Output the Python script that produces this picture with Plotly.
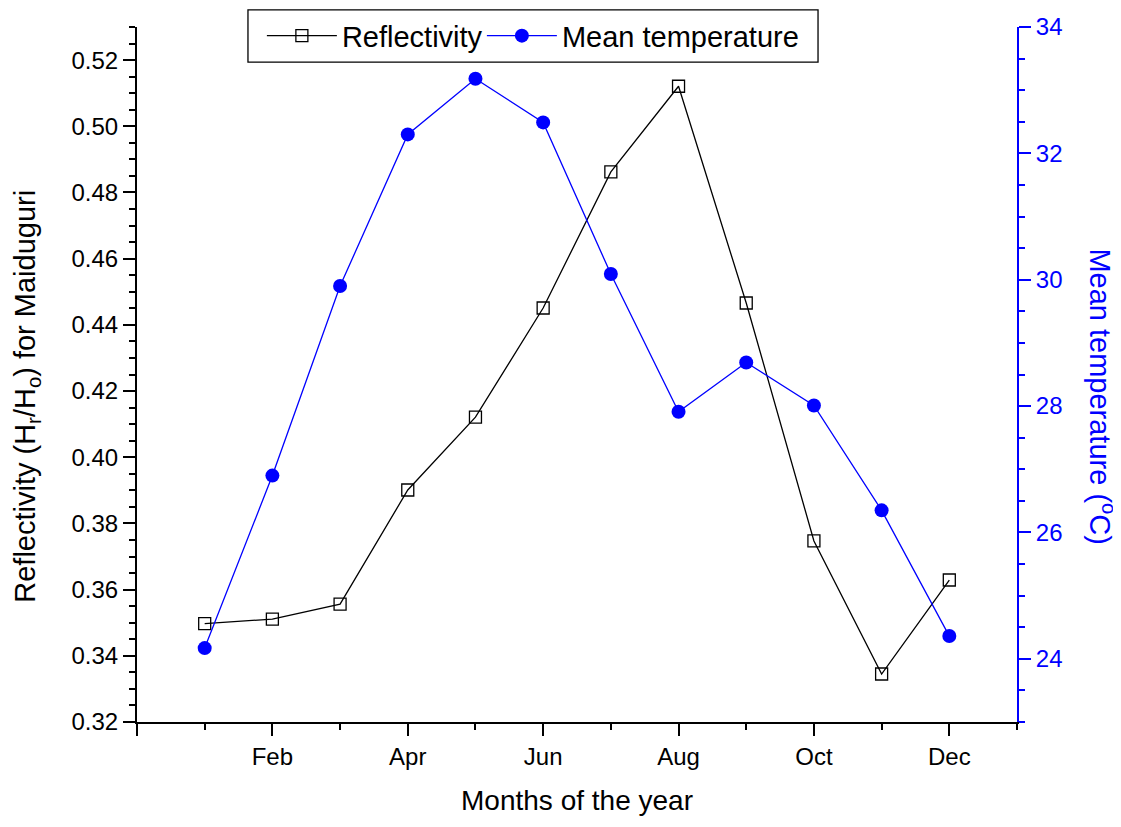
import plotly.graph_objects as go

months = [1, 2, 3, 4, 5, 6, 7, 8, 9, 10, 11, 12]
reflectivity = [0.3497, 0.3511, 0.3556, 0.3901, 0.4121, 0.4451, 0.4862, 0.5121, 0.4466, 0.3747, 0.3345, 0.3629]
mean_temp = [24.17, 26.90, 29.90, 32.30, 33.18, 32.49, 30.09, 27.91, 28.69, 28.01, 26.35, 24.36]
tick_vals = [0, 2, 4, 6, 8, 10, 12]
tick_text = ["", "Feb", "Apr", "Jun", "Aug", "Oct", "Dec"]

FONT = "Liberation Sans, Arial, sans-serif"
BLUE = "#0000ff"

fig = go.Figure()
fig.add_trace(go.Scatter(
    x=months, y=reflectivity, name="Reflectivity", mode="lines+markers",
    line=dict(color="black", width=1.3),
    marker=dict(symbol="square-open", size=12, color="black", line=dict(width=1.3)),
    yaxis="y", legend="legend"))
fig.add_trace(go.Scatter(
    x=months, y=mean_temp, name="Mean temperature", mode="lines+markers",
    line=dict(color=BLUE, width=1.3),
    marker=dict(symbol="circle", size=14, color=BLUE),
    yaxis="y2", legend="legend2"))

leg_common = dict(orientation="h", y=1.024, xanchor="left", yanchor="top",
                  bgcolor="rgba(0,0,0,0)", borderwidth=0,
                  font=dict(size=29, family=FONT), itemwidth=70, indentation=14)

fig.update_layout(
    width=1121, height=827,
    margin=dict(l=129, r=112, t=19, b=113, autoexpand=False),
    paper_bgcolor="white", plot_bgcolor="white",
    font=dict(family=FONT, size=23, color="black"),
    showlegend=True,
    legend=dict(x=0.126, **leg_common),
    legend2=dict(x=0.376, **leg_common),
    xaxis=dict(range=[0, 13], tickmode="array", tickvals=tick_vals, ticktext=tick_text,
               ticks="outside", ticklen=12, tickwidth=2, tickcolor="black",
               showline=True, linecolor="black", linewidth=2, mirror=False,
               showgrid=False, zeroline=False,
               minor=dict(tickmode="array", tickvals=[1, 3, 5, 7, 9, 11, 13], ticks="outside",
                          ticklen=6, tickwidth=2, tickcolor="black", showgrid=False),
               tickfont=dict(size=24, family=FONT),
               title=dict(text="Months of the year", font=dict(size=28, family=FONT), standoff=22)),
    xaxis2=dict(range=[0, 13], overlaying="x", side="top", showline=True, linecolor="black",
                linewidth=2, showticklabels=False, ticks="", showgrid=False, zeroline=False),
    yaxis=dict(range=[0.32, 0.53], tickmode="array",
               tickvals=[0.32, 0.34, 0.36, 0.38, 0.40, 0.42, 0.44, 0.46, 0.48, 0.50, 0.52],
               tickformat=".2f", ticks="outside", ticklen=12, tickwidth=2, tickcolor="black",
               showline=True, linecolor="black", linewidth=2, showgrid=False, zeroline=False,
               minor=dict(dtick=0.005, ticks="outside", ticklen=6, tickwidth=2,
                          tickcolor="black", showgrid=False),
               tickfont=dict(size=24, family=FONT)),
    yaxis2=dict(range=[23, 34], overlaying="y", side="right", tickmode="array",
                tickvals=[24, 26, 28, 30, 32, 34],
                ticks="outside", ticklen=12, tickwidth=2, tickcolor=BLUE,
                showline=True, linecolor=BLUE, linewidth=2, showgrid=False, zeroline=False,
                minor=dict(dtick=0.5, ticks="outside", ticklen=6, tickwidth=2,
                           tickcolor=BLUE, showgrid=False),
                tickfont=dict(size=24, family=FONT, color=BLUE)),
)

# legend frame box
fig.add_shape(type="rect", xref="paper", yref="paper",
              x0=0.1261, x1=0.7739, y0=0.9496, y1=1.0245,
              fillcolor="white", line=dict(color="black", width=1.3), layer="above")

fig.add_annotation(
    text="Reflectivity (H<sub>r</sub>/H<sub>o</sub>) for Maiduguri",
    xref="paper", yref="paper", x=-0.125, y=0.468, xanchor="center", yanchor="middle",
    textangle=-90, showarrow=False, font=dict(size=29, family=FONT, color="black"))
fig.add_annotation(
    text="Mean temperature (<sup>o</sup>C)",
    xref="paper", yref="paper", x=1.097, y=0.468, xanchor="center", yanchor="middle",
    textangle=90, showarrow=False, font=dict(size=29, family=FONT, color=BLUE))

fig.write_html("out.html")
